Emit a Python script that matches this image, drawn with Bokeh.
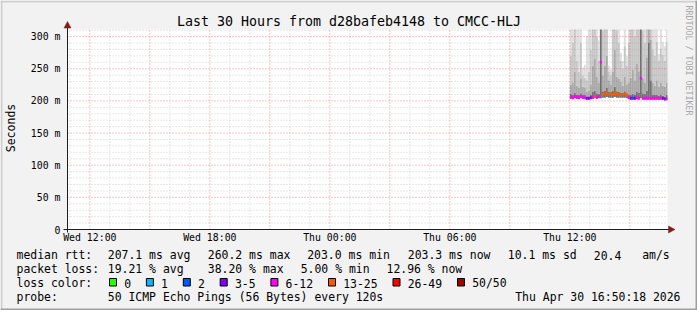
import math
import pandas as pd
from bokeh.plotting import figure
from bokeh.models import ColumnDataSource, Range1d
from bokeh.core.properties import value
from bokeh.embed import file_html
from bokeh.resources import INLINE

# ---------------- data ----------------
TITLE = "Last 30 Hours from d28bafeb4148 to CMCC-HLJ"
RANGE_START = "2026-04-29 10:53"
RANGE_END = "2026-04-30 16:53"
DATA_START = "2026-04-30 12:00"
STEP_MIN = 6
Y_MAX = 311

median_ms = [206, 205, 207, 206, 205, 207, 206, 205, 204, 204,
             205, 206, 207, 206, 207, 260, 210, 211, 212, 210,
             211, 210, 212, 211, 210, 209, 210, 211, 209, 205,
             204, 204, 204, 205, 204, 235, 204, 204, 204, 204,
             204, 204, 204, 204, 204, 204, 204, 203, 203]
rtt_low = [203, 203, 204, 203, 203, 204, 203, 203, 202, 202,
           203, 203, 204, 203, 204, 204, 205, 205, 206, 205,
           205, 205, 206, 205, 205, 205, 205, 205, 204, 203,
           202, 202, 202, 203, 202, 204, 202, 202, 202, 202,
           202, 202, 202, 202, 202, 202, 202, 202, 202]
smoke_dark = [211, 210, 213, 210, 209, 212, 210, 209, 207, 207,
              209, 214, 216, 212, 211, 330, 215, 216, 220, 214,
              214, 216, 222, 215, 214, 213, 212, 215, 212, 210,
              210, 211, 209, 214, 213, 330, 212, 211, 216, 290,
              232, 210, 209, 210, 208, 209, 208, 207, 209]
smoke_mid = [225, 228, 245, 224, 220, 235, 222, 220, 214, 216,
             226, 255, 265, 238, 228, 340, 240, 255, 270, 232,
             226, 245, 280, 238, 234, 230, 224, 238, 226, 228,
             236, 248, 232, 258, 246, 340, 236, 228, 268, 330,
             295, 228, 224, 232, 222, 228, 224, 222, 228]
smoke_light = [270, 290, 330, 262, 245, 290, 240, 236, 232, 245,
               280, 330, 330, 300, 262, 340, 310, 330, 330, 246,
               240, 320, 340, 310, 290, 262, 250, 285, 255, 290,
               312, 330, 300, 330, 325, 340, 310, 290, 330, 340,
               340, 280, 270, 292, 262, 282, 272, 262, 292]
smoke_max = [330, 330, 340, 330, 320, 330, 252, 256, 300, 330,
             330, 340, 340, 330, 294, 340, 340, 340, 340, 255,
             248, 340, 340, 340, 330, 275, 262, 330, 270, 330,
             340, 340, 335, 340, 340, 340, 340, 330, 340, 340,
             340, 330, 320, 330, 273, 330, 292, 285, 330]
loss_pings = [9, 8, 10, 9, 11, 8, 9, 10, 4, 3,
              4, 10, 14, 11, 12, 9, 15, 17, 18, 19,
              16, 18, 17, 16, 15, 17, 18, 16, 14, 8,
              3, 2, 3, 9, 10, 11, 9, 10, 9, 12,
              11, 9, 10, 8, 9, 10, 4, 4, 7]

loss_labels = ["0", "1", "2", "3-5", "6-12", "13-25", "26-49", "50/50"]
loss_upper = [0, 1, 2, 5, 12, 25, 49, 50]
loss_colors = ["#26ff00", "#00b8ff", "#0059ff", "#7e00ff", "#ff00ff", "#ff5500", "#ff0000", "#a10000"]

y_ticks = [0, 50, 100, 150, 200, 250, 300]
y_tick_labels = ["0", "50 m", "100 m", "150 m", "200 m", "250 m", "300 m"]
y_minor_step = 10
x_tick_times = ["2026-04-29 12:00", "2026-04-29 18:00", "2026-04-30 00:00",
                "2026-04-30 06:00", "2026-04-30 12:00"]
x_tick_labels = ["Wed 12:00", "Wed 18:00", "Thu 00:00", "Thu 06:00", "Thu 12:00"]

rtt_row = [("median rtt:", 16), ("207.1 ms avg", 107.3), ("260.2 ms max", 207.3),
           ("203.0 ms min", 306.7), ("203.3 ms now", 407.3), ("10.1 ms sd", 507.3),
           ("20.4", 593.3), ("am/s", 641.7)]
loss_row = [("packet loss:", 16), ("19.21 % avg", 107.3), ("38.20 % max", 207.3),
            ("5.00 % min", 300.2), ("12.96 % now", 386.0)]
probe_text = "50 ICMP Echo Pings (56 Bytes) every 120s"
stamp_text = "Thu Apr 30 16:50:18 2026"

# ---------------- geometry / styling ----------------
W, H = 697, 310
FL, FT, FR, FB = 67, 29, 667, 229          # plot area in canvas pixels
MONO = "DejaVu Sans Mono"
BACK = "#f2f2f2"
SHADE_A = "#cfcfcf"
SHADE_B = "#9e9e9e"
AXIS = "#1f1f1f"
ARROW = "#801f1f"
MGRID = "#de4f4f"
GRID = "#8f8f8f"
ROWS = [254.5, 268.5, 282.5, 296.5]        # legend text baselines


def ms(s):
    return pd.Timestamp(s).value // 10**6


T_S, T_E = ms(RANGE_START), ms(RANGE_END)
MSPP = (T_E - T_S) / (FR - FL)      # ms of time per pixel
VPP = Y_MAX / (FB - FT)             # ms of rtt per pixel


def X(cx):
    return T_S + (cx - FL) * MSPP


def Y(cy):
    return (FB - cy) * VPP


p = figure(width=W, height=H, output_backend="svg", toolbar_location=None,
           title=None, x_axis_location=None, y_axis_location=None,
           x_range=Range1d(X(0), X(W)), y_range=Range1d(Y(H), Y(0)),
           min_border=0, min_border_left=0, min_border_right=0,
           min_border_top=0, min_border_bottom=0,
           background_fill_color=BACK, border_fill_color=BACK,
           outline_line_color=None)
p.xgrid.visible = False
p.ygrid.visible = False

# 3D border of the image
p.quad(left=[X(0), X(0)], right=[X(W), X(2)], top=[Y(0), Y(0)], bottom=[Y(2), Y(H)],
       fill_color=SHADE_A, line_color=None)
p.quad(left=[X(0), X(W - 2)], right=[X(W), X(W)], top=[Y(H - 2), Y(0)], bottom=[Y(H), Y(H)],
       fill_color=SHADE_B, line_color=None)

# canvas (plot area)
p.quad(left=[T_S], right=[T_E], bottom=[0], top=[Y_MAX], fill_color="white", line_color=None)

# ---------------- smoke + median ----------------
t0 = ms(DATA_START)
step = STEP_MIN * 60 * 1000
n = len(median_ms)


def clip(vals):
    return [min(v, Y_MAX) for v in vals]


def bucket_color(lost):
    for up, col in zip(loss_upper, loss_colors):
        if lost <= up:
            return col
    return loss_colors[-1]


src = ColumnDataSource(dict(
    left=[t0 + i * step for i in range(n)],
    right=[min(t0 + (i + 1) * step, T_E) for i in range(n)],
    med=median_ms, low=rtt_low,
    dark=clip(smoke_dark), mid=clip(smoke_mid), light=clip(smoke_light), top=clip(smoke_max),
    col=[bucket_color(v) for v in loss_pings],
))
p.quad(left="left", right="right", bottom="low", top="med", source=src,
       fill_color="#707070", line_color=None)
p.quad(left="left", right="right", bottom="med", top="dark", source=src,
       fill_color="#707070", line_color=None)
p.quad(left="left", right="right", bottom="dark", top="mid", source=src,
       fill_color="#a8a8a8", line_color=None)
p.quad(left="left", right="right", bottom="mid", top="light", source=src,
       fill_color="#c6c6c6", line_color=None)
p.quad(left="left", right="right", bottom="light", top="top", source=src,
       fill_color="#dfdfdf", line_color=None)
p.segment(x0="left", x1="right", y0="med", y1="med", source=src,
          line_color="col", line_width=3)

# ---------------- grid (dotted, on top of data like rrdtool) ----------------
hour = 3600 * 1000
first_hour = ms("2026-04-29 11:00")
hours = [first_hour + i * hour for i in range(31) if first_hour + i * hour < T_E]
major_x = [t for t in hours if pd.Timestamp(t, unit="ms").hour % 3 == 0]
minor_x = [t for t in hours if t not in major_x]
major_y = [v for v in y_ticks if v > 0]
minor_y = [v for v in range(y_minor_step, Y_MAX, y_minor_step) if v not in y_ticks]

p.segment(x0=minor_x, x1=minor_x, y0=[0] * len(minor_x), y1=[Y_MAX] * len(minor_x),
          line_color=GRID, line_alpha=0.42, line_dash="1 2", line_width=1)
p.segment(x0=[T_S] * len(minor_y), x1=[T_E] * len(minor_y), y0=minor_y, y1=minor_y,
          line_color=GRID, line_alpha=0.42, line_dash="1 2", line_width=1)
p.segment(x0=major_x, x1=major_x, y0=[0] * len(major_x), y1=[Y_MAX] * len(major_x),
          line_color=MGRID, line_alpha=0.62, line_dash="1 2", line_width=1)
p.segment(x0=[T_S] * len(major_y), x1=[T_E] * len(major_y), y0=major_y, y1=major_y,
          line_color=MGRID, line_alpha=0.62, line_dash="1 2", line_width=1)

# ---------------- axes with arrows ----------------
p.segment(x0=[X(63), T_S], x1=[X(669), T_S], y0=[0, Y(232)], y1=[0, Y(26)],
          line_color=AXIS, line_width=1)
p.patches(xs=[[X(668), X(674.5), X(668)], [X(63.5), T_S, X(70.5)]],
          ys=[[Y(225.5), 0, Y(232.5)], [Y(27.5), Y(21), Y(27.5)]],
          fill_color=ARROW, line_color=ARROW, line_width=0.5)

# tick labels
x_ticks = [ms(t) for t in x_tick_times]
p.text(x=x_ticks, y=[Y(231.5)] * len(x_ticks), text=x_tick_labels,
       text_font=value(MONO), text_font_size="9.85px", text_color="black",
       text_align="center", text_baseline="top")
p.text(x=[X(60)] * len(y_ticks), y=y_ticks, text=y_tick_labels,
       text_font=value(MONO), text_font_size="9.85px", text_color="black",
       text_align="right", text_baseline="middle")


def label(texts, cxs, cy, size="11.45px", align="left", baseline="alphabetic",
          color="black", angle=0.0):
    p.text(x=[X(c) for c in cxs], y=[Y(cy)] * len(cxs), text=texts,
           text_font=value(MONO), text_font_size=size, text_color=color,
           text_align=align, text_baseline=baseline, angle=angle)


# title, axis label, watermark
label([TITLE], [W / 2], 21, size="13.3px", align="center")
label(["Seconds"], [10], 127.5, size="11.5px", align="center", baseline="middle",
      angle=math.pi / 2)
label(["RRDTOOL / TOBI OETIKER"], [688.5], 5, size="8.3px", align="left",
      baseline="middle", color="#a8a8a8", angle=-math.pi / 2)

# legend rows
label([t for t, _ in rtt_row], [x for _, x in rtt_row], ROWS[0])
label([t for t, _ in loss_row], [x for _, x in loss_row], ROWS[1])
label(["loss color:"], [16], ROWS[2])
sw_left, lab_x = [], []
sw = 109.0
for lab in loss_labels:
    sw_left.append(sw)
    lx = sw + 14.7
    lab_x.append(lx)
    sw = lx + len(lab) * 6.9 + 15.3
p.quad(left=[X(s) for s in sw_left], right=[X(s + 7) for s in sw_left],
       top=[Y(ROWS[2] - 4.5)] * len(sw_left), bottom=[Y(ROWS[2] + 3.0)] * len(sw_left),
       fill_color=loss_colors, line_color="black", line_width=1)
label(loss_labels, lab_x, ROWS[2])
label(["probe:", probe_text], [16, 107.3], ROWS[3])
label([stamp_text], [680], ROWS[3], align="right")

open("out.html", "w").write(file_html(p, INLINE))
